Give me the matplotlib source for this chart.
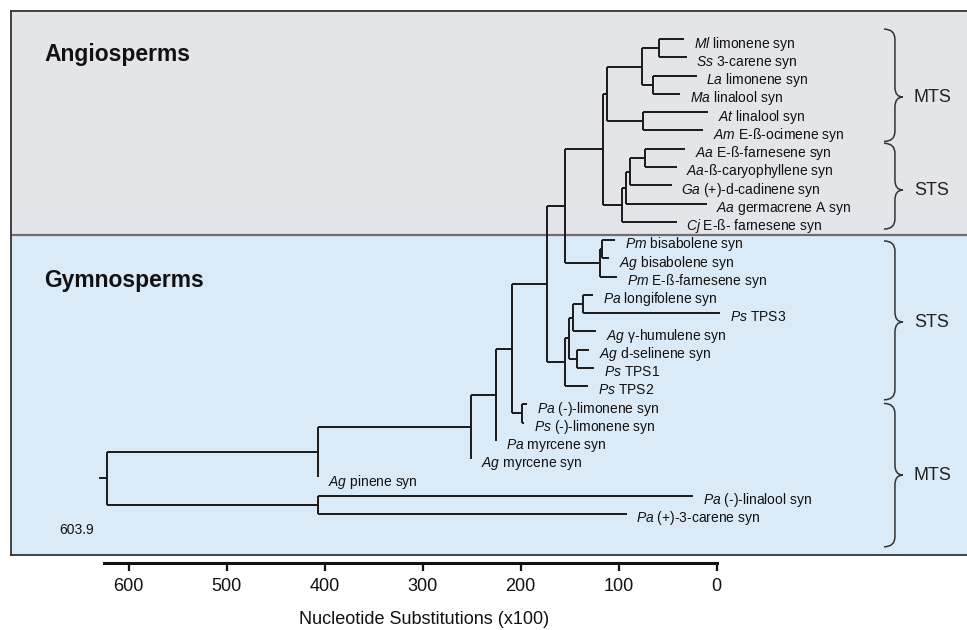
import numpy as np
import matplotlib
matplotlib.use('Agg')
from matplotlib import pyplot as plt
from matplotlib.path import Path
from matplotlib.patches import PathPatch

plt.rcParams['font.family'] = ['Liberation Sans', 'DejaVu Sans']
plt.rcParams['mathtext.fontset'] = 'custom'
plt.rcParams['mathtext.it'] = 'Liberation Sans:italic'
plt.rcParams['mathtext.rm'] = 'Liberation Sans'

# tips, listed top to bottom
tip_sp = ['Ml', 'Ss', 'La', 'Ma', 'At', 'Am', 'Aa', 'Aa', 'Ga', 'Aa', 'Cj',
          'Pm', 'Ag', 'Pm', 'Pa', 'Ps', 'Ag', 'Ag', 'Ps', 'Ps',
          'Pa', 'Ps', 'Pa', 'Ag', 'Ag', 'Pa', 'Pa']
tip_name = [' limonene syn', ' 3-carene syn', ' limonene syn', ' linalool syn',
            ' linalool syn', ' E-ß-ocimene syn', ' E-ß-farnesene syn',
            '-ß-caryophyllene syn', ' (+)-d-cadinene syn', ' germacrene A syn',
            ' E-ß- farnesene syn',
            ' bisabolene syn', ' bisabolene syn', ' E-ß-farnesene syn',
            ' longifolene syn', ' TPS3', ' γ-humulene syn', ' d-selinene syn',
            ' TPS1', ' TPS2',
            ' (-)-limonene syn', ' (-)-limonene syn', ' myrcene syn',
            ' myrcene syn', ' pinene syn', ' (-)-linalool syn', ' (+)-3-carene syn']
# where each tip branch ends (substitutions x100)
tip_end = [33.4, 30.6, 20.4, 37.4, 8.6, 13.7, 32.3, 40.8, 45.9, 10.2, 40.8,
           103.8, 109.9, 101.7, 125.9, -3.4, 123.2, 130.3, 125.2, 131.3,
           193.3, 196.6, 225.2, 250.7, 406.8, 24.2, 91.8]

# internal nodes: children (tip index or node name) and node depth
node_name = ['a1', 'a2', 'a3', 'a4', 'a5', 'a6', 'a7', 'a8', 'a9', 'a10',
             'g1', 'g2', 'g3', 'g4', 'g5', 'g6', 'g7', 'g8', 'g9', 'g10',
             'g11', 'g12', 'g13', 'g14', 'g15', 'root']
node_kids = [[0, 1], [2, 3], ['a1', 'a2'], [4, 5], ['a3', 'a4'],
             [6, 7], ['a6', 8], ['a7', 9], ['a8', 10], ['a5', 'a9'],
             [11, 12], ['g1', 13], ['a10', 'g2'], [14, 15], ['g4', 16],
             [17, 18], ['g5', 'g6'], ['g7', 19], ['g3', 'g8'], [20, 21],
             ['g9', 'g10'], ['g11', 22], ['g12', 23], ['g13', 24], [25, 26],
             ['g14', 'g15']]
node_age = [58.6, 64.7, 76.5, 74.9, 112.2, 73.2, 88.5, 92.6, 96.3, 116.3,
            116.7, 119.1, 154.8, 136.1, 146.9, 142.9, 150.2, 154.4, 172.9, 198.4,
            209.2, 225.2, 250.7, 406.8, 406.8, 622.0]
root_stub = 629.0
root_label = '603.9'

# brackets on the right
brace_top = [-0.55, 5.7, 11.05, 19.95]
brace_bot = [5.6, 10.4, 19.75, 27.8]
brace_mid = [3.17, 8.26, 15.49, 23.87]
brace_lab = ['MTS', 'STS', 'STS', 'MTS']

ticks = [600, 500, 400, 300, 200, 100, 0]

angio_col = '#e4e5e9'
gymno_col = '#dbeaf7'
line_col = '#1a1a1a'

fig = plt.figure(figsize=(9.67, 6.3), dpi=100)
W, H = 967.0, 630.0
ax = fig.add_axes([11 / W, (H - 555) / H, (975 - 11) / W, (555 - 11) / H])
ax.set_xlim(720.1, -263.6)
ax.set_ylim(28.25, -1.544)
split = 10.72
ax.axhspan(-1.544, split, color=angio_col, zorder=0)
ax.axhspan(split, 28.25, color=gymno_col, zorder=0)
ax.axhline(split, color='#6e6e6e', lw=1.6, zorder=1)
for s in ['top', 'left', 'bottom']:
    ax.spines[s].set_color('#333333')
    ax.spines[s].set_linewidth(1.3)
ax.spines['right'].set_visible(False)
ax.set_xticks([])
ax.set_yticks([])

# node positions
ypos = {}
xpos = {}
for i in range(len(tip_sp)):
    ypos[i] = float(i)
    xpos[i] = tip_end[i]
for n, kids, age in zip(node_name, node_kids, node_age):
    ypos[n] = np.mean([ypos[k] for k in kids])
    xpos[n] = age

for n, kids, age in zip(node_name, node_kids, node_age):
    ys = [ypos[k] for k in kids]
    ax.plot([age, age], [min(ys), max(ys)], color=line_col, lw=1.4,
            solid_capstyle='butt', zorder=3)
    for k in kids:
        ax.plot([age, xpos[k]], [ypos[k], ypos[k]], color=line_col, lw=1.4,
                solid_capstyle='butt', zorder=3)
ax.plot([root_stub, node_age[-1]], [ypos['root'], ypos['root']], color=line_col,
        lw=1.4, zorder=3)

for i in range(len(tip_sp)):
    lab = r'$\mathit{' + tip_sp[i] + '}$' + tip_name[i]
    ax.annotate(lab, (tip_end[i], i), xytext=(7, -6), textcoords='offset points',
                fontsize=10, va='baseline', ha='left', color='#111111')

ax.text(686.4, 0.865, 'Angiosperms', fontsize=16.5, fontweight='bold',
        va='center', ha='left', color='#111111')
ax.text(686.4, 13.19, 'Gymnosperms', fontsize=16.5, fontweight='bold',
        va='center', ha='left', color='#111111')
ax.text(671, 26.88, root_label, fontsize=10, va='center', ha='left', color='#111111')

# curly braces
x0, x1, x2 = -170.7, -181.9, -190.1
r = 0.55
for top, bot, mid, lab in zip(brace_top, brace_bot, brace_mid, brace_lab):
    verts = [(x0, top), (x1, top), (x1, top + r), (x1, mid - r),
             (x1, mid), (x2, mid), (x1, mid), (x1, mid + r),
             (x1, bot - r), (x1, bot), (x0, bot)]
    codes = [Path.MOVETO, Path.CURVE3, Path.CURVE3, Path.LINETO,
             Path.CURVE3, Path.CURVE3, Path.CURVE3, Path.CURVE3,
             Path.LINETO, Path.CURVE3, Path.CURVE3]
    ax.add_patch(PathPatch(Path(verts, codes), fill=False, lw=1.1,
                           edgecolor='#333333', zorder=3))
    ax.text(-201.3, mid, lab, fontsize=13, va='center', ha='left', color='#222222')

# scale axis
ax2 = fig.add_axes([11 / W, (H - 563) / H, (975 - 11) / W, 0.0001])
ax2.set_xlim(720.1, -263.6)
ax2.patch.set_visible(False)
for s in ['top', 'left', 'right']:
    ax2.spines[s].set_visible(False)
ax2.spines['bottom'].set_linewidth(2.2)
ax2.spines['bottom'].set_color('#111111')
ax2.spines['bottom'].set_bounds(0, 625.2)
ax2.set_yticks([])
ax2.set_xticks(ticks)
ax2.set_xticklabels([str(t) for t in ticks])
ax2.tick_params(axis='x', direction='out', length=6, width=1.6, labelsize=13,
                pad=5, colors='#111111')

fig.text(424 / W, 1 - 620 / H, 'Nucleotide Substitutions (x100)', fontsize=13,
         ha='center', va='center', color='#111111')

fig.savefig('out.png', dpi=100)
